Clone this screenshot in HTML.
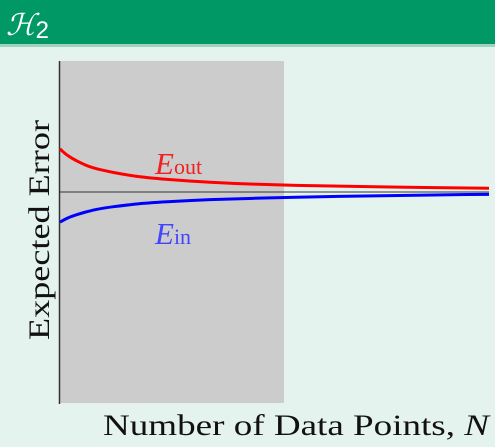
<!DOCTYPE html>
<html><head><meta charset="utf-8"><style>
body{margin:0;width:495px;height:442px;overflow:hidden;background:#e5f3ee;font-family:"Liberation Serif",serif}
</style></head><body>
<svg width="495" height="442">
<rect x="0" y="0" width="495" height="44" fill="#009966"/>
<rect x="0" y="44" width="495" height="3" fill="#9fd3c0"/>
<text x="6" y="35" font-size="30" fill="#fff" font-style="italic" font-family="Liberation Serif,serif">ℋ<tspan font-style="normal" font-family="Liberation Sans,sans-serif" font-size="24" dy="3">2</tspan></text>
<rect x="60" y="61" width="224" height="342" fill="#cccccc"/>
<line x1="59.5" y1="61" x2="59.5" y2="404" stroke="#333" stroke-width="1.5"/>
<line x1="59" y1="192" x2="489" y2="192" stroke="#333" stroke-width="1"/>
<g id="series"></g>
<text x="155" y="174" font-size="31" fill="#ee2222" font-style="italic">E<tspan font-style="normal" font-size="22">out</tspan></text>
<text x="155" y="244" font-size="31" fill="#4444ff" font-style="italic">E<tspan font-style="normal" font-size="22">in</tspan></text>
<text transform="translate(49,230) rotate(-90)" text-anchor="middle" font-size="30" fill="#111" textLength="220" lengthAdjust="spacingAndGlyphs">Expected Error</text>
<text x="103" y="435" font-size="30" fill="#111" textLength="386" lengthAdjust="spacingAndGlyphs">Number of Data Points, <tspan font-style="italic">N</tspan></text>
</svg>
<script>
const nValues=[0,1,2,3,5,7,10,15,20,30,40,50,60,70,80,90,100];
const eOut=[0.743,0.731,0.722,0.714,0.701,0.690,0.680,0.668,0.659,0.649,0.642,0.638,0.635,0.633,0.631,0.629,0.628];
const eIn=[0.529,0.536,0.542,0.547,0.555,0.562,0.570,0.578,0.585,0.592,0.597,0.600,0.603,0.605,0.607,0.609,0.610];
const xs=n=>60+n*(489-60)/100;
const ys=v=>403-v*342;
function path(vals){
  let d='';
  for(let i=0;i<nValues.length;i++){
    const x=xs(nValues[i]),y=ys(vals[i]);
    if(i===0){d+='M'+x+','+y;}
    else{
      const x0=xs(nValues[i-1]),y0=ys(vals[i-1]);
      d+=' Q'+x0+','+y0+' '+((x0+x)/2)+','+((y0+y)/2);
    }
  }
  d+=' L'+xs(nValues[nValues.length-1])+','+ys(vals[vals.length-1]);
  return d;
}
const g=document.getElementById('series');
const ns='http://www.w3.org/2000/svg';
const p1=document.createElementNS(ns,'path');
p1.setAttribute('d',path(eOut));p1.setAttribute('stroke','#ff0000');p1.setAttribute('stroke-width','3');p1.setAttribute('fill','none');


g.appendChild(p1);
const p2=document.createElementNS(ns,'path');
p2.setAttribute('d',path(eIn));p2.setAttribute('stroke','#0000ff');p2.setAttribute('stroke-width','3');p2.setAttribute('fill','none');


g.appendChild(p2);
</script>
</body></html>
